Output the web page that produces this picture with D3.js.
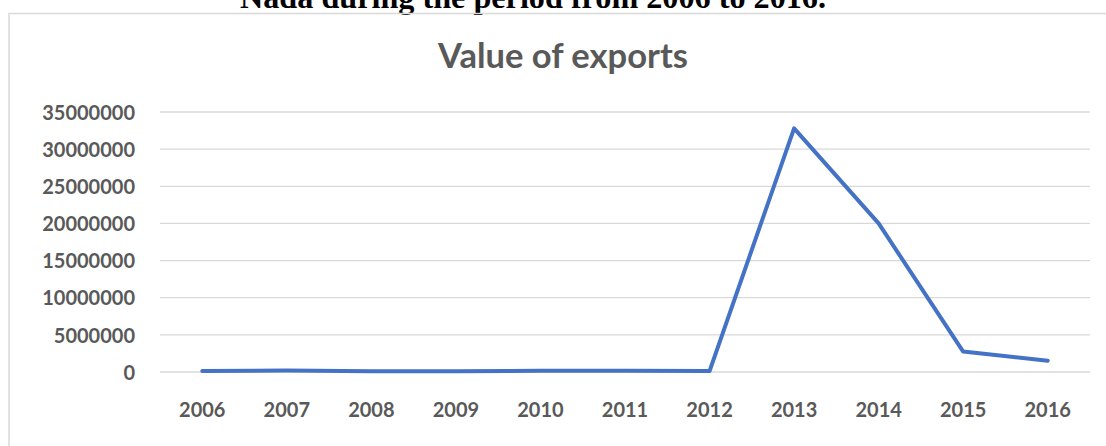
<!DOCTYPE html>
<html><head><meta charset="utf-8">
<script src="https://cdn.jsdelivr.net/npm/d3@7"></script>
<style>html,body{margin:0;padding:0;background:#fff;overflow:hidden}</style>
</head><body>
<svg id="c" width="1106" height="446"></svg>
<script>
const years = ["2006","2007","2008","2009","2010","2011","2012","2013","2014","2015","2016"];
const exportsValue = [150000,200000,100000,90000,160000,180000,120000,32800000,20000000,2750000,1520000];
const yTicks = [0,5000000,10000000,15000000,20000000,25000000,30000000,35000000];
const pageHeading = "Nada during the period from 2006 to 2016.";
const chartTitle = "Value of exports";

const svg = d3.select("#c");
const x = d3.scaleBand().domain(years).range([160,1090]);
const y = d3.scaleLinear().domain([0,35000000]).range([372,112]);

// page heading (cut off at top)
const h = svg.append("text").attr("x",533).attr("y",8).attr("text-anchor","middle")
  .attr("font-family","Liberation Serif").attr("font-weight","bold").attr("font-size",26)
  .attr("fill","#000").text(pageHeading);
const hw = h.node().getComputedTextLength();
h.attr("font-size",26*586/hw);

// chart border
svg.append("rect").attr("x",9).attr("y",13.5).attr("width",1110).attr("height",450)
  .attr("fill","none").attr("stroke","#d9d9d9").attr("stroke-width",1.5);

// title
const t = svg.append("text").attr("x",563).attr("y",68).attr("text-anchor","middle")
  .attr("font-family","Lato").attr("font-weight","bold").attr("font-size",34)
  .attr("fill","#595959").text(chartTitle);
const tw = t.node().getComputedTextLength();
t.attr("font-size",34*250/tw);

// gridlines
svg.append("g").selectAll("line").data(yTicks).join("line")
  .attr("x1",160).attr("x2",1090).attr("y1",d=>y(d)).attr("y2",d=>y(d))
  .attr("stroke","#d9d9d9").attr("stroke-width",1.3);

// y axis labels
const ya = svg.append("g").attr("transform","translate(135,0)")
  .call(d3.axisLeft(y).tickValues(yTicks).tickSize(0).tickPadding(0).tickFormat(d3.format("d")));
ya.select(".domain").remove();
ya.selectAll("text").attr("font-family","Lato").attr("font-weight","bold").attr("font-size",20)
  .attr("fill","#595959").attr("dy","0.36em");

// x axis labels
const xa = svg.append("g").attr("transform","translate(0,403)")
  .call(d3.axisBottom(x).tickSize(0).tickPadding(0));
xa.select(".domain").remove();
xa.selectAll("text").attr("font-family","Lato").attr("font-weight","bold").attr("font-size",20)
  .attr("fill","#595959").attr("dy","0.72em");

// line
const line = d3.line().x((d,i)=>x(years[i])+x.bandwidth()/2).y(d=>y(d));
svg.append("path").datum(exportsValue).attr("d",line).attr("fill","none")
  .attr("stroke","#4472c4").attr("stroke-width",4).attr("stroke-linejoin","round").attr("stroke-linecap","round");
</script>
</body></html>
